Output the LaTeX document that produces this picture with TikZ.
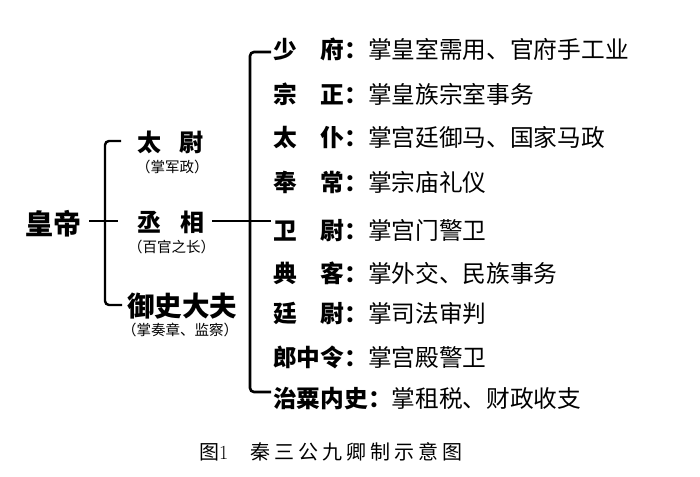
\documentclass[tikz,border=0pt]{standalone}
\usepackage{fontspec}
\newfontfamily\cjk{Noto Sans CJK SC}
\begin{document}
\begin{tikzpicture}[x=1pt,y=-1pt,
  conn/.style={line width=2.6pt, line cap=butt, rounded corners=4pt},
  txt/.style={inner sep=0pt, anchor=west},
  big/.style={txt, text height=24.6pt, text depth=3.4pt, font=\cjk\bfseries\fontsize{28}{28}\selectfont},
  mid/.style={txt, text height=21.1pt, text depth=2.9pt, font=\cjk\bfseries\fontsize{24}{24}\selectfont},
  yus/.style={txt, text height=24.2pt, text depth=3.3pt, font=\cjk\bfseries\fontsize{27.5}{28}\selectfont},
  note/.style={txt, text height=12.8pt, text depth=1.7pt, font=\cjk\fontsize{14.5}{15}\selectfont},
  row/.style={txt, text height=20.9pt, text depth=2.8pt, font=\cjk\fontsize{23.7}{24}\selectfont},
  captxt/.style={txt, text height=17.6pt, text depth=2.4pt, font=\cjk\fontsize{20}{20}\selectfont}]
\useasboundingbox (0,0) rectangle (700,476);
\fill[white] (0,0) rectangle (700,476);

% left part
\node[big] (emp) at (25,224) {皇帝};
\node[mid] (tw) at (137,142) {太\hspace{0.75em}尉};
\node[note] (twn) at (136,167) {（掌军政）};
\node[mid] (cx) at (137,222) {丞\hspace{0.8em}相};
\node[note] (cxn) at (128,247) {（百官之长）};
\node[yus] (ys) at (127,306) {御史大夫};
\node[note] (ysn) at (122,330) {（掌奏章、监察）};

% right list
\node[row] (r1) at (273,49) {\textbf{少\hspace{1em}府：}掌皇室需用、官府手工业};
\node[row] (r2) at (273,94) {\textbf{宗\hspace{1em}正：}掌皇族宗室事务};
\node[row] (r3) at (273,137) {\textbf{太\hspace{1em}仆：}掌宫廷御马、国家马政};
\node[row] (r4) at (273,182) {\textbf{奉\hspace{1em}常：}掌宗庙礼仪};
\node[row] (r5) at (273,230) {\textbf{卫\hspace{1em}尉：}掌宫门警卫};
\node[row] (r6) at (273,273) {\textbf{典\hspace{1em}客：}掌外交、民族事务};
\node[row] (r7) at (273,313) {\textbf{廷\hspace{1em}尉：}掌司法审判};
\node[row] (r8) at (273,357) {\textbf{郎中令：}掌宫殿警卫};
\node[row] (r9) at (273,398) {\textbf{治粟内史：}掌租税、财政收支};

% caption
\node[captxt] (capn) at (199,452) {图{\rmfamily\fontsize{20}{20}\selectfont 1}\hspace{1.1em}秦\hspace{4pt}三\hspace{4pt}公\hspace{4pt}九\hspace{4pt}卿\hspace{4pt}制\hspace{4pt}示\hspace{4pt}意\hspace{4pt}图};

% connector coordinates
\coordinate (le) at (89,221);
\coordinate (lx) at (118,221);
\coordinate (lt) at (121,141);
\coordinate (lb) at (122,305);
\coordinate (cxe) at (212,221);
\coordinate (rx) at (250,221);
\coordinate (rs) at (271,221);
\coordinate (rt) at (271,52);
\coordinate (rb) at (271,392);

% left bracket
\draw[conn, line width=2.4pt] (le) -- (lx);
\draw[conn, line width=2.4pt] (lt) -- (105,141) -- (105,305) -- (lb);
% right bracket
\draw[conn] (cxe) -- (rx) -- (rs);
\draw[conn] (rt) -- (250,52) -- (250,392) -- (rb);
\end{tikzpicture}
\end{document}
